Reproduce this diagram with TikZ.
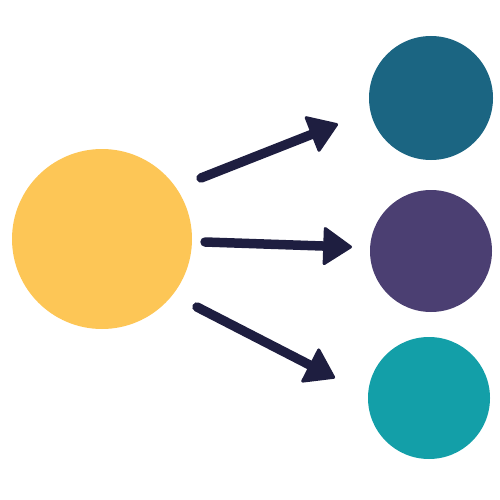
\documentclass[tikz,border=0pt]{standalone}
\usetikzlibrary{arrows.meta}
\definecolor{cyellow}{HTML}{FDC656}
\definecolor{cblue}{HTML}{1B6582}
\definecolor{cpurple}{HTML}{4B3F72}
\definecolor{cteal}{HTML}{139FA8}
\definecolor{cnavy}{HTML}{1E1E40}
\tikzset{
  blob/.style={circle, inner sep=0pt, minimum size=#1},
  arr/.style={draw=cnavy, line width=9.5pt, line cap=round,
    -{Triangle[length=30pt,width=40pt,line width=3pt,round]}}
}
\begin{document}
\begin{tikzpicture}[x=1pt,y=-1pt]
\useasboundingbox (0,0) rectangle (500,500);
\node[blob=180pt, fill=cyellow] (src) at (102,239) {};
\node[blob=124pt, fill=cblue] (a) at (431,98) {};
\node[blob=122pt, fill=cpurple] (b) at (431,251) {};
\node[blob=122pt, fill=cteal] (c) at (429,398) {};
\coordinate (s1) at (201,178);
\coordinate (e1) at (338,124);
\coordinate (s2) at (205,242);
\coordinate (e2) at (352,247);
\coordinate (s3) at (197,307);
\coordinate (e3) at (335,378);
\draw[arr] (s1) -- (e1);
\draw[arr] (s2) -- (e2);
\draw[arr] (s3) -- (e3);
\end{tikzpicture}
\end{document}
